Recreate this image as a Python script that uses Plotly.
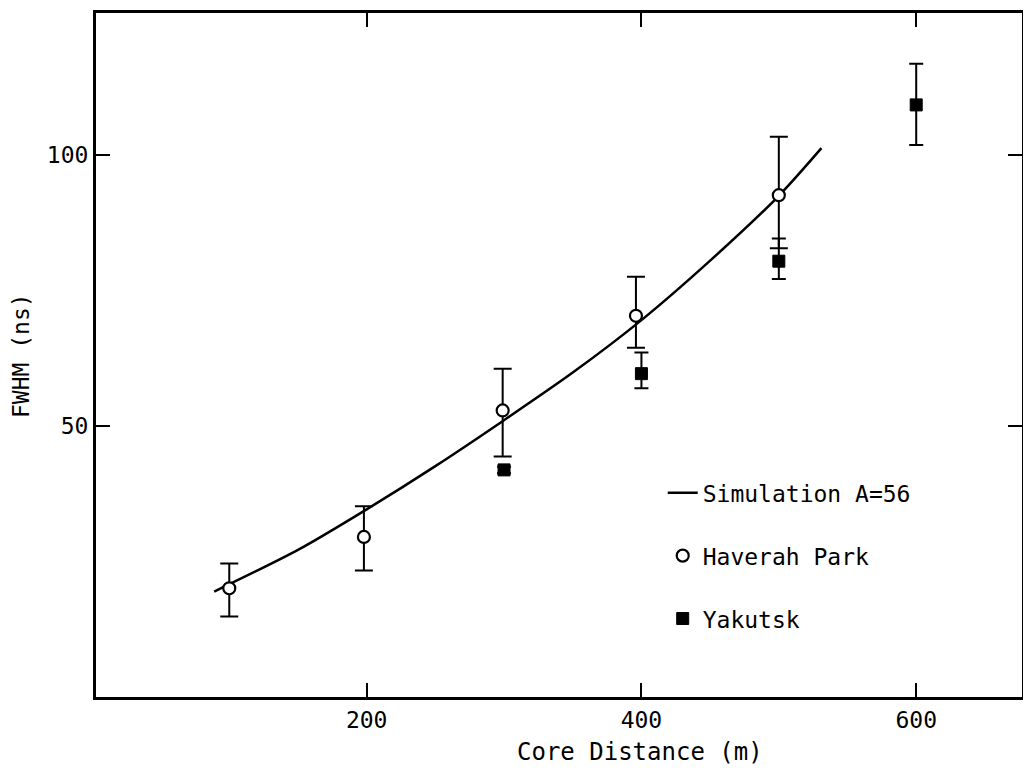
import plotly.graph_objects as go

# Simulation curve (A=56)
sim_x = [89, 150, 200, 250, 300, 350, 400, 450, 500, 531]
sim_y = [19.3, 27.0, 34.5, 42.5, 51.0, 59.8, 69.5, 80.5, 92.5, 101.3]

# Haverah Park
hp_x = [100, 198, 299, 396, 500]
hp_y = [19.9, 29.4, 52.8, 70.3, 92.6]
hp_up = [4.6, 5.7, 7.7, 7.2, 10.8]
hp_dn = [5.2, 6.2, 8.5, 5.9, 9.8]

# Yakutsk
yk_x = [300, 400, 500, 600]
yk_y = [41.8, 59.6, 80.4, 109.3]
yk_up = [0.6, 3.9, 4.2, 7.6]
yk_dn = [0.6, 2.7, 3.3, 7.4]

FONT = "DejaVu Sans Mono"

fig = go.Figure()
fig.add_trace(go.Scatter(
    x=sim_x, y=sim_y, mode="lines", name="Simulation A=56",
    line=dict(color="black", width=2.5, shape="spline", smoothing=0.8),
    legendgroup="a"))
fig.add_trace(go.Scatter(
    x=hp_x, y=hp_y, mode="markers", name="Haverah Park",
    marker=dict(symbol="circle", size=12, color="white",
                line=dict(color="black", width=2.2)),
    error_y=dict(type="data", symmetric=False, array=hp_up, arrayminus=hp_dn,
                 color="black", thickness=2, width=9),
    legendgroup="b"))
fig.add_trace(go.Scatter(
    x=yk_x, y=yk_y, mode="markers", name="Yakutsk",
    marker=dict(symbol="square", size=12, color="black",
                line=dict(color="black", width=1)),
    error_y=dict(type="data", symmetric=False, array=yk_up, arrayminus=yk_dn,
                 color="black", thickness=2, width=7),
    legendgroup="c"))

axis_common = dict(
    showline=True, linecolor="black", linewidth=3, mirror="ticks",
    ticks="inside", ticklen=14, tickwidth=2, tickcolor="black",
    showgrid=False, zeroline=False,
    tickfont=dict(family=FONT, size=23, color="black"),
)
fig.update_xaxes(range=[3, 677], tickvals=[200, 400, 600],
                 ticktext=["200", "400", "600"], **axis_common)
fig.update_yaxes(range=[-0.2, 126.3], tickvals=[50, 100],
                 ticktext=["50", "100"], **axis_common)

fig.add_annotation(text="Core Distance (m)", x=399, xref="x", y=-0.08,
                   yref="paper", showarrow=False, xanchor="center",
                   yanchor="middle", font=dict(family=FONT, size=24, color="black"))
fig.add_annotation(text="FWHM (ns)", x=-0.081, xref="paper", y=0.5,
                   yref="paper", showarrow=False, textangle=-90,
                   xanchor="center", yanchor="middle",
                   font=dict(family=FONT, size=23, color="black"))

fig.update_layout(
    width=1023, height=765,
    margin=dict(l=88, r=9, t=2, b=76),
    paper_bgcolor="white", plot_bgcolor="white",
    font=dict(family=FONT, size=23, color="black"),
    legend=dict(x=0.612, y=0.33, xanchor="left", yanchor="top",
                bgcolor="rgba(0,0,0,0)", borderwidth=0,
                traceorder="grouped", tracegroupgap=30,
                font=dict(family=FONT, size=23, color="black")),
    showlegend=True,
)

fig.write_html("out.html")
